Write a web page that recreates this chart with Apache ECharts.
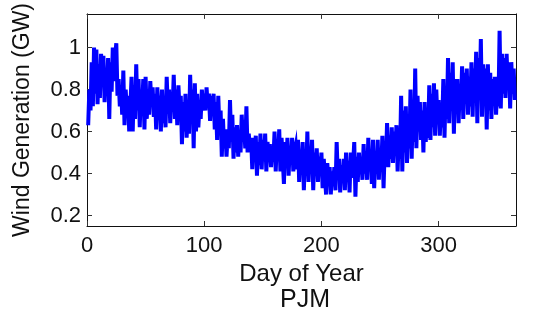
<!DOCTYPE html>
<html>
<head>
<meta charset="utf-8">
<script src="https://cdn.jsdelivr.net/npm/echarts@6/dist/echarts.min.js"></script>
<style>
  html, body { margin: 0; padding: 0; background: #fff; }
  #chart { width: 549px; height: 318px; }
</style>
</head>
<body>
<div id="chart"></div>
<script>
// daily PJM wind generation (GW), day 1..365
var wind = [
  0.63, 0.80, 0.70, 0.93, 0.72, 1.00, 0.78, 0.99, 0.73, 0.92,
  0.76, 0.97, 0.82, 0.96, 0.74, 0.90, 0.80, 0.95, 0.66, 0.93,
  0.79, 1.00, 0.84, 0.96, 1.02, 0.77, 0.85, 0.72, 0.82, 0.68,
  0.89, 0.63, 0.80, 0.70, 0.77, 0.60, 0.72, 0.86, 0.60, 0.82,
  0.66, 0.92, 0.70, 0.85, 0.62, 0.80, 0.70, 0.85, 0.61, 0.86,
  0.66, 0.80, 0.68, 0.84, 0.72, 0.81, 0.67, 0.78, 0.61, 0.81,
  0.70, 0.77, 0.60, 0.80, 0.64, 0.74, 0.62, 0.86, 0.70, 0.80,
  0.64, 0.78, 0.70, 0.87, 0.66, 0.80, 0.63, 0.82, 0.70, 0.77,
  0.54, 0.74, 0.60, 0.78, 0.57, 0.72, 0.59, 0.87, 0.68, 0.80,
  0.52, 0.83, 0.60, 0.78, 0.62, 0.73, 0.66, 0.80, 0.70, 0.78,
  0.70, 0.81, 0.72, 0.78, 0.65, 0.77, 0.70, 0.78, 0.61, 0.74,
  0.56, 0.77, 0.60, 0.70, 0.48, 0.66, 0.52, 0.61, 0.48, 0.58,
  0.52, 0.75, 0.55, 0.68, 0.47, 0.62, 0.50, 0.63, 0.48, 0.60,
  0.50, 0.68, 0.55, 0.64, 0.52, 0.72, 0.50, 0.59, 0.52, 0.57,
  0.42, 0.57, 0.46, 0.58, 0.39, 0.55, 0.44, 0.59, 0.42, 0.56,
  0.47, 0.59, 0.41, 0.55, 0.48, 0.54, 0.43, 0.52, 0.46, 0.60,
  0.41, 0.56, 0.48, 0.61, 0.41, 0.57, 0.47, 0.35, 0.55, 0.44,
  0.57, 0.39, 0.53, 0.46, 0.57, 0.41, 0.50, 0.53, 0.42, 0.56,
  0.36, 0.50, 0.44, 0.55, 0.32, 0.48, 0.40, 0.60, 0.36, 0.52,
  0.44, 0.56, 0.32, 0.50, 0.40, 0.52, 0.36, 0.48, 0.40, 0.50,
  0.33, 0.47, 0.38, 0.30, 0.45, 0.36, 0.43, 0.30, 0.41, 0.34,
  0.43, 0.32, 0.55, 0.38, 0.47, 0.31, 0.44, 0.36, 0.47, 0.32,
  0.50, 0.36, 0.46, 0.31, 0.50, 0.38, 0.44, 0.55, 0.29, 0.48,
  0.36, 0.50, 0.40, 0.46, 0.37, 0.54, 0.40, 0.48, 0.37, 0.57,
  0.42, 0.51, 0.35, 0.56, 0.33, 0.50, 0.40, 0.56, 0.37, 0.52,
  0.42, 0.58, 0.33, 0.52, 0.45, 0.64, 0.43, 0.58, 0.47, 0.62,
  0.45, 0.60, 0.50, 0.63, 0.41, 0.58, 0.47, 0.77, 0.41, 0.70,
  0.50, 0.72, 0.45, 0.65, 0.52, 0.80, 0.47, 0.73, 0.55, 0.90,
  0.52, 0.77, 0.60, 0.74, 0.56, 0.70, 0.50, 0.74, 0.55, 0.68,
  0.57, 0.82, 0.56, 0.78, 0.62, 0.83, 0.58, 0.80, 0.65, 0.75,
  0.58, 0.73, 0.62, 0.85, 0.57, 0.80, 0.66, 0.95, 0.64, 0.88,
  0.70, 0.93, 0.59, 0.85, 0.70, 0.85, 0.64, 0.80, 0.72, 0.91,
  0.66, 0.88, 0.74, 0.90, 0.68, 0.86, 0.72, 0.93, 0.67, 0.90,
  0.75, 0.98, 0.64, 0.95, 0.75, 1.04, 0.67, 0.92, 0.78, 0.90,
  0.61, 0.92, 0.70, 0.88, 0.66, 0.85, 0.74, 0.86, 0.68, 0.84,
  0.72, 1.08, 0.71, 0.97, 0.78, 0.95, 0.76, 0.97, 0.80, 0.93,
  0.71, 0.93, 0.78, 0.90, 0.75
];
var xTicks = [0, 100, 200, 300];
var yTicks = [0.2, 0.4, 0.6, 0.8, 1];

var font = "Liberation Sans";
var pts = [];
for (var i = 0; i < wind.length; i++) {
  pts.push([i + 1, wind[i]]);
}

var chart = echarts.init(document.getElementById("chart"));

function xAx(pos, show) {
  return {
    type: "value",
    position: pos,
    min: 0,
    max: 366,
    splitLine: { show: false },
    axisLine: { show: true, onZero: false, lineStyle: { color: "#111", width: 1 } },
    axisTick: { show: true, inside: true, length: 5, customValues: xTicks, lineStyle: { color: "#333" } },
    axisLabel: { show: show, customValues: xTicks, margin: 9, color: "#111", fontFamily: font, fontSize: 22 },
    name: show ? "Day of Year" : "",
    nameLocation: "middle",
    nameGap: 33,
    nameTextStyle: { color: "#111", fontFamily: font, fontSize: 24 }
  };
}
function yAx(pos, show) {
  return {
    type: "value",
    position: pos,
    min: 0.15,
    max: 1.16,
    splitLine: { show: false },
    axisLine: { show: true, onZero: false, lineStyle: { color: "#111", width: 1 } },
    axisTick: { show: true, inside: true, length: 5, customValues: yTicks, lineStyle: { color: "#333" } },
    axisLabel: { show: show, customValues: yTicks, margin: 6, color: "#111", fontFamily: font, fontSize: 22 },
    name: show ? "Wind Generation (GW)" : "",
    nameLocation: "middle",
    nameRotate: 90,
    nameGap: 53,
    nameTextStyle: { color: "#111", fontFamily: font, fontSize: 23 }
  };
}

var option = {
  backgroundColor: "#fff",
  animation: false,
  title: {
    text: "PJM",
    left: 300,
    textAlign: "center",
    top: 283,
    textStyle: { color: "#111", fontFamily: font, fontSize: 25, fontWeight: "normal" }
  },
  grid: { left: 87, right: 33, top: 11, bottom: 92 },
  xAxis: [xAx("bottom", true), xAx("top", false)],
  yAxis: [yAx("left", true), yAx("right", false)],
  series: [
    {
      type: "line",
      data: pts,
      showSymbol: false,
      symbol: "none",
      lineStyle: { color: "#0000ff", width: 4, join: "miter" }
    }
  ]
};
chart.setOption(option);
</script>
</body>
</html>
